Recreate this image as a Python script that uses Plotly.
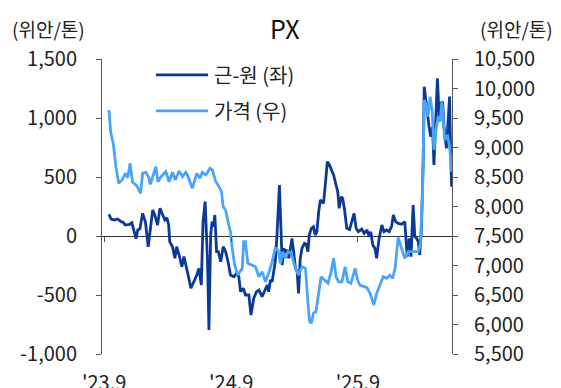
import plotly.graph_objects as go

# ---------------- data ----------------
spread_dates = [
    "2023-09-15","2023-09-21","2023-10-01","2023-10-10","2023-10-20","2023-10-26","2023-11-01","2023-11-13",
    "2023-11-20","2023-11-25","2023-12-02","2023-12-07","2023-12-13","2023-12-21","2023-12-29","2024-01-06",
    "2024-01-12","2024-01-19","2024-01-25","2024-02-02","2024-02-09","2024-02-16","2024-02-23","2024-02-29",
    "2024-03-05","2024-03-08","2024-03-16","2024-03-23","2024-03-28","2024-04-04","2024-04-12","2024-04-18",
    "2024-04-23","2024-04-30","2024-05-08","2024-05-17","2024-05-25","2024-05-31","2024-06-07","2024-06-12",
    "2024-06-18","2024-06-25","2024-06-29","2024-07-04","2024-07-08","2024-07-12","2024-07-16","2024-07-21",
    "2024-07-26","2024-08-02","2024-08-09","2024-08-16","2024-08-23","2024-08-30","2024-09-09","2024-09-17",
    "2024-09-23","2024-09-28","2024-10-06","2024-10-12","2024-10-22","2024-10-28","2024-11-05","2024-11-13",
    "2024-11-20","2024-11-29","2024-12-09","2024-12-14","2024-12-18","2024-12-23","2024-12-28","2025-01-02",
    "2025-01-06","2025-01-11","2025-01-18","2025-01-23","2025-01-26","2025-01-30","2025-02-04","2025-02-09",
    "2025-02-14","2025-02-18","2025-02-23","2025-02-28","2025-03-05","2025-03-10","2025-03-14","2025-03-19",
    "2025-03-24","2025-03-31","2025-04-05","2025-04-10","2025-04-14","2025-04-20","2025-04-26","2025-05-01",
    "2025-05-06","2025-05-11","2025-05-16","2025-05-20","2025-05-25","2025-05-30","2025-06-05","2025-06-11",
    "2025-06-18","2025-06-23","2025-06-30","2025-07-05","2025-07-09","2025-07-15","2025-07-19","2025-07-24",
    "2025-07-31","2025-08-08","2025-08-21","2025-08-27","2025-09-02","2025-09-12","2025-09-19","2025-09-27",
    "2025-10-04","2025-10-08","2025-10-14","2025-10-20","2025-10-25","2025-11-01","2025-11-09","2025-11-15",
    "2025-11-23","2025-11-30","2025-12-07","2025-12-12","2025-12-19","2025-12-26","2026-01-05","2026-01-14",
    "2026-01-21","2026-01-27","2026-02-01","2026-02-07","2026-02-12","2026-02-17","2026-02-22","2026-02-26",
    "2026-03-03","2026-03-08","2026-03-11","2026-03-18","2026-03-25","2026-03-30","2026-04-04","2026-04-08",
    "2026-04-12","2026-04-18","2026-04-23","2026-04-28","2026-05-03","2026-05-07","2026-05-14","2026-05-19",
    "2026-05-23","2026-05-26","2026-05-29",
]
spread_values = [
    184, 144, 136, 144, 121, 116, 93, 99,
    113, 65, -23, 51, 59, 192, 121, -91,
    79, 220, 178, 93, 235, 178, 136, 155,
    93, -48, -91, -189, -91, -161, -260, -175,
    -231, -331, -443, -387, -331, -274, -415, 121,
    291, -218, -797, 8, 121, 79, 178, -133,
    -133, -218, -91, -133, -218, -331, -345, -316,
    -345, -472, -443, -500, -500, -670, -528, -472,
    -458, -514, -443, -415, -472, -373, -387, -302,
    -218, 8, 432, 8, -246, -104, -133, -119,
    -189, -119, -20, -133, -274, -302, -486, -189,
    -104, -62, -70, -133, 8, 65, 79, 8,
    37, 206, 305, 291, 277, 432, 630, 602,
    559, 517, 432, 375, 235, 333, 319, 235,
    65, 55, 192, 65, 37, 59, 23, 51,
    -6, 37, -76, -104, -189, -20, 93, 37,
    51, 37, 79, 178, 121, 107, 99, 121,
    -175, -20, -175, 263, -6, -20, -48, -161,
    65, 630, 1265, 1068, 926, 841, 926, 602,
    870, 1337, 1011, 1125, 1138, 926, 743, 1011,
    1181, 701, 418,
]

price_dates = [
    "2023-09-15","2023-09-20","2023-09-28","2023-10-05","2023-10-13","2023-10-23","2023-11-01","2023-11-08",
    "2023-11-15","2023-11-22","2023-12-04","2023-12-15","2023-12-21","2023-12-30","2024-01-07","2024-01-12",
    "2024-01-19","2024-01-28","2024-02-03","2024-02-12","2024-02-26","2024-03-06","2024-03-16","2024-03-24",
    "2024-04-04","2024-04-14","2024-04-23","2024-04-28","2024-05-12","2024-05-25","2024-06-03","2024-06-10",
    "2024-06-20","2024-07-02","2024-07-09","2024-07-18","2024-07-28","2024-08-04","2024-08-09","2024-08-16",
    "2024-08-23","2024-08-30","2024-09-04","2024-09-11","2024-09-20","2024-10-03","2024-10-07","2024-10-12",
    "2024-10-19","2024-11-01","2024-11-10","2024-11-20","2024-11-29","2024-12-09","2024-12-18","2024-12-28",
    "2025-01-06","2025-01-14","2025-01-21","2025-01-27","2025-02-04","2025-02-12","2025-02-21","2025-03-05",
    "2025-03-14","2025-03-24","2025-04-03","2025-04-10","2025-04-15","2025-04-20","2025-04-26","2025-05-03",
    "2025-05-11","2025-05-18","2025-05-28","2025-06-07","2025-06-16","2025-06-23","2025-06-30","2025-07-07",
    "2025-07-17","2025-07-26","2025-08-03","2025-08-12","2025-08-24","2025-08-31","2025-09-07","2025-09-17",
    "2025-09-27","2025-10-06","2025-10-17","2025-10-25","2025-11-04","2025-11-13","2025-11-23","2025-12-02",
    "2025-12-10","2025-12-17","2025-12-26","2026-01-05","2026-01-14","2026-01-24","2026-02-03","2026-02-12",
    "2026-02-22","2026-02-28","2026-03-06","2026-03-11","2026-03-18","2026-03-22","2026-03-28","2026-04-03",
    "2026-04-08","2026-04-15","2026-04-20","2026-04-26","2026-05-01","2026-05-09","2026-05-17","2026-05-23",
    "2026-05-29",
]
price_values = [
    9636, 9268, 9042, 8675, 8393, 8449, 8563, 8488,
    8732, 8410, 8353, 8224, 8563, 8580, 8505, 8376,
    8505, 8675, 8420, 8505, 8590, 8420, 8580, 8449,
    8602, 8505, 8580, 8534, 8308, 8563, 8478, 8580,
    8534, 8648, 8619, 8432, 8336, 8251, 7997, 7941,
    7742, 7573, 7292, 7008, 6839, 6952, 7403, 7403,
    7037, 7008, 6980, 6810, 6895, 6725, 6868, 7064,
    7292, 7263, 7037, 7234, 7122, 7234, 7207, 6952,
    6839, 6980, 6952, 6386, 6047, 6020, 6190, 6217,
    6556, 6810, 6754, 6698, 6895, 7122, 6810, 6725,
    6725, 6980, 6725, 6698, 6952, 6754, 6669, 6641,
    6624, 6528, 6330, 6528, 6669, 6810, 6783, 6839,
    6783, 6952, 7471, 7263, 7122, 7234, 7234, 7234,
    7234, 7347, 8195, 9805, 9692, 9522, 9861, 9607,
    8958, 9353, 9522, 9437, 9776, 9127, 9212, 9014,
    8590,
]

x_tick_dates = ["2023-09-01", "2024-09-01", "2025-09-01"]
x_tick_labels = ["'23.9", "'24.9", "'25.9"]
left_ticks = [-1000, -500, 0, 500, 1000, 1500]
right_ticks = [5500, 6000, 6500, 7000, 7500, 8000, 8500, 9000, 9500, 10000, 10500]

series_names = ["근-원 (좌)", "가격 (우)"]
title_text = "PX"
unit_text = "(위안/톤)"

# ---------------- style ----------------
FONT = "Noto Sans CJK KR, Noto Sans, sans-serif"
DARK = "#0B3A96"
LIGHT = "#4AA5F8"
AXIS = "#555555"
TXT = "#222222"


def fmt(v):
    return f"{v:,}"  # plain hyphen-minus, thousands comma


fig = go.Figure()
fig.add_trace(go.Scatter(x=spread_dates, y=spread_values, mode="lines",
                         line=dict(color=DARK, width=2.8), name=series_names[0],
                         showlegend=False, yaxis="y"))
fig.add_trace(go.Scatter(x=price_dates, y=price_values, mode="lines",
                         line=dict(color=LIGHT, width=2.8), name=series_names[1],
                         showlegend=False, yaxis="y2"))
# invisible helper trace so the zero-line tick axis is drawn
fig.add_trace(go.Scatter(x=x_tick_dates, y=[0] * len(x_tick_dates), mode="lines",
                         line=dict(width=0, color="rgba(0,0,0,0)"), hoverinfo="skip",
                         showlegend=False, xaxis="x2", yaxis="y"))

x_range = ["2023-08-26", "2026-05-30"]

# the page body adds an 8px offset, so the figure is drawn 8px smaller
fig.update_layout(
    width=553, height=380,
    margin=dict(l=94, r=109, t=51, b=34, autoexpand=False),
    paper_bgcolor="white", plot_bgcolor="white",
    font=dict(family=FONT, size=20, color=TXT),
    xaxis=dict(type="date", range=x_range, tickvals=x_tick_dates, ticktext=x_tick_labels,
               showgrid=False, zeroline=False, showline=False, ticks="outside", ticklen=11,
               tickcolor="rgba(0,0,0,0)", tickfont=dict(size=20, color=TXT), automargin=False),
    xaxis2=dict(type="date", overlaying="x", matches="x", anchor="free", position=0.4,
                tickvals=x_tick_dates, showticklabels=False, showgrid=False, zeroline=False,
                showline=False, ticks="outside", ticklen=5, tickcolor=AXIS, tickwidth=1,
                automargin=False),
    yaxis=dict(range=[-1000, 1500], tickvals=left_ticks, ticktext=[fmt(v) for v in left_ticks],
               showgrid=False, zeroline=True, zerolinecolor="#333333", zerolinewidth=1,
               showline=True, linecolor=AXIS, linewidth=1, ticks="outside", ticklen=5,
               tickcolor=AXIS, ticklabelstandoff=15, tickfont=dict(size=20, color=TXT),
               automargin=False),
    yaxis2=dict(range=[5500, 10500], tickvals=right_ticks, ticktext=[fmt(v) for v in right_ticks],
                overlaying="y", side="right", showgrid=False, zeroline=False, showline=True,
                linecolor=AXIS, linewidth=1, ticks="outside", ticklen=5, tickcolor=AXIS,
                ticklabelstandoff=12, tickfont=dict(size=20, color=TXT), automargin=False),
)

# title and unit labels
fig.add_annotation(text=title_text, x=0.52, y=1.105, xref="paper", yref="paper",
                   showarrow=False, font=dict(size=25, color="#111111"), xanchor="center", yanchor="middle")
fig.add_annotation(text=unit_text, x=-0.154, y=1.105, xref="paper", yref="paper",
                   showarrow=False, font=dict(size=19, color=TXT), xanchor="center", yanchor="middle")
fig.add_annotation(text=unit_text, x=1.183, y=1.105, xref="paper", yref="paper",
                   showarrow=False, font=dict(size=19, color=TXT), xanchor="center", yanchor="middle")

# custom legend
leg_y = [0.946, 0.824]
for name, color, yy in zip(series_names, [DARK, LIGHT], leg_y):
    fig.add_shape(type="line", xref="paper", yref="paper", x0=0.154, x1=0.303, y0=yy, y1=yy,
                  line=dict(color=color, width=2.8))
    fig.add_annotation(text=name, x=0.314, y=yy, xref="paper", yref="paper", showarrow=False,
                       xanchor="left", yanchor="middle", font=dict(size=20, color=TXT))

fig.write_html("out.html")
